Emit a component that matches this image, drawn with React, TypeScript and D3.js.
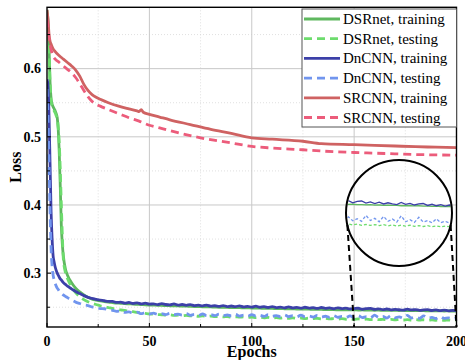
import React from "react";
import * as d3 from "d3";

// ---------- DATA ----------
const epochs = [
  0, 0.5, 1, 1.5, 2, 2.5, 3, 3.5, 4, 4.5, 5, 5.5, 6, 6.5, 7, 7.5, 8, 9,
  10, 12, 14, 16, 18, 20, 22, 24, 26, 28,
  30, 32, 34, 36, 38, 40, 42, 44, 46, 48,
  50, 52, 54, 56, 58, 60, 62, 64, 66, 68,
  70, 72, 74, 76, 78, 80, 82, 84, 86, 88,
  90, 92, 94, 96, 98, 100, 102, 104, 106, 108,
  110, 112, 114, 116, 118, 120, 122, 124, 126, 128,
  130, 132, 134, 136, 138, 140, 142, 144, 146, 148,
  150, 152, 154, 156, 158, 160, 162, 164, 166, 168,
  170, 172, 174, 176, 178, 180, 182, 184, 186, 188,
  190, 192, 194, 196, 198, 200,
];

const dsrnetTrain = [
  0.686, 0.67, 0.63, 0.58, 0.556, 0.548, 0.544, 0.541, 0.538, 0.534, 0.528, 0.51, 0.475, 0.425, 0.37, 0.342, 0.325, 0.306,
  0.297, 0.286, 0.278, 0.2725, 0.268, 0.2645, 0.262, 0.2605, 0.2592, 0.2582,
  0.2574, 0.2568, 0.2562, 0.2558, 0.2553, 0.255, 0.2546, 0.2543, 0.254, 0.2536,
  0.2533, 0.2531, 0.2528, 0.2527, 0.2524, 0.2522, 0.252, 0.2519, 0.2516, 0.2515,
  0.2513, 0.2511, 0.251, 0.2507, 0.2506, 0.2504, 0.2503, 0.25, 0.25, 0.2497,
  0.2496, 0.2494, 0.2493, 0.2491, 0.249, 0.2489, 0.2487, 0.2486, 0.2484, 0.2484,
  0.2482, 0.2481, 0.2479, 0.2478, 0.2477, 0.2476, 0.2474, 0.2474, 0.2472, 0.2471,
  0.247, 0.2468, 0.2468, 0.2466, 0.2466, 0.2464, 0.2463, 0.2462, 0.2461, 0.246,
  0.2462, 0.2459, 0.246, 0.2457, 0.2458, 0.2456, 0.2457, 0.2454, 0.2455, 0.2453,
  0.2454, 0.2452, 0.2453, 0.245, 0.2451, 0.245, 0.2449, 0.245, 0.2447, 0.2448,
  0.2446, 0.2447, 0.2445, 0.2446, 0.2444, 0.2445,
];

const dsrnetTest = [
  0.672, 0.656, 0.622, 0.578, 0.552, 0.545, 0.541, 0.538, 0.535, 0.531, 0.526, 0.514, 0.49, 0.45, 0.4, 0.355, 0.32, 0.301,
  0.292, 0.28, 0.2715, 0.2655, 0.2612, 0.258, 0.2558, 0.254, 0.2522, 0.2508,
  0.2495, 0.2482, 0.2472, 0.246, 0.2452, 0.244, 0.2435, 0.2425, 0.2418, 0.241,
  0.2402, 0.2398, 0.2392, 0.239, 0.2385, 0.2388, 0.238, 0.2384, 0.2376, 0.238,
  0.2372, 0.2376, 0.2368, 0.2372, 0.2365, 0.237, 0.2362, 0.2366, 0.2358, 0.2364,
  0.2356, 0.236, 0.2354, 0.2358, 0.235, 0.2356, 0.2348, 0.2354, 0.2345, 0.235,
  0.2343, 0.2348, 0.234, 0.2346, 0.2338, 0.2344, 0.2336, 0.2342, 0.2334, 0.234,
  0.2332, 0.2338, 0.233, 0.2336, 0.2328, 0.2334, 0.2326, 0.2332, 0.2324, 0.233,
  0.2322, 0.2328, 0.232, 0.2326, 0.2318, 0.2324, 0.2317, 0.2323, 0.2316, 0.2322,
  0.2314, 0.232, 0.2313, 0.2319, 0.2312, 0.2318, 0.2311, 0.2316, 0.231, 0.2315,
  0.2309, 0.2314, 0.2308, 0.2313, 0.2307, 0.2312,
];

const dncnnTrain = [
  0.584, 0.575, 0.53, 0.46, 0.39, 0.35, 0.325, 0.316, 0.309, 0.304, 0.3, 0.297, 0.294, 0.2915, 0.29, 0.288, 0.286, 0.2835,
  0.281, 0.277, 0.273, 0.27, 0.267, 0.2645, 0.263, 0.2615, 0.2605, 0.2595,
  0.2585, 0.2585, 0.257, 0.2575, 0.256, 0.257, 0.2555, 0.2565, 0.2548, 0.256,
  0.2545, 0.255, 0.2538, 0.2552, 0.254, 0.2535, 0.2548, 0.2532, 0.254, 0.2528,
  0.2538, 0.2525, 0.253, 0.252, 0.2532, 0.2515, 0.2522, 0.2512, 0.2525, 0.251,
  0.2518, 0.2508, 0.252, 0.2505, 0.2512, 0.2502, 0.2515, 0.25, 0.2508, 0.2496,
  0.251, 0.2495, 0.2502, 0.249, 0.2505, 0.2492, 0.2498, 0.2486, 0.25, 0.2488,
  0.2494, 0.2482, 0.2496, 0.2484, 0.249, 0.2478, 0.2492, 0.248, 0.2486, 0.2475,
  0.248, 0.2485, 0.247, 0.248, 0.2482, 0.2468, 0.2476, 0.2465, 0.2474, 0.2462,
  0.247, 0.2463, 0.2458, 0.2472, 0.246, 0.2466, 0.2455, 0.2462, 0.2465, 0.2452,
  0.246, 0.245, 0.2458, 0.2448, 0.2455, 0.245,
];

const dncnnTest = [
  0.57, 0.53, 0.46, 0.39, 0.335, 0.31, 0.297, 0.29, 0.285, 0.281, 0.278, 0.276, 0.2735, 0.272, 0.2705, 0.269, 0.268, 0.266,
  0.264, 0.2605, 0.2575, 0.2555, 0.2535, 0.2525, 0.2505, 0.2495, 0.248, 0.2478,
  0.2462, 0.2455, 0.244, 0.2445, 0.2425, 0.2432, 0.2415, 0.2428, 0.2405, 0.2418,
  0.24, 0.2415, 0.2395, 0.2405, 0.2392, 0.2412, 0.239, 0.2398, 0.2385, 0.2408,
  0.2382, 0.2395, 0.238, 0.2402, 0.2378, 0.2392, 0.2376, 0.24, 0.2375, 0.2388,
  0.2372, 0.2396, 0.237, 0.2385, 0.2368, 0.2392, 0.237, 0.2382, 0.2365, 0.239,
  0.2366, 0.2378, 0.2362, 0.2388, 0.2362, 0.2375, 0.2358, 0.2384, 0.236, 0.2372,
  0.2356, 0.238, 0.2355, 0.2368, 0.2352, 0.2378, 0.2352, 0.2365, 0.235, 0.2372,
  0.235, 0.2375, 0.2348, 0.2362, 0.2345, 0.2385, 0.235, 0.2365, 0.2342, 0.2378,
  0.2345, 0.236, 0.234, 0.2382, 0.2342, 0.2355, 0.2338, 0.2372, 0.234, 0.235,
  0.2335, 0.2362, 0.2336, 0.2345, 0.2332, 0.234,
];

const srcnnTrainEpochs = [0, 0.5, 1, 1.5, 2, 3, 4, 6, 8, 10, 12, 14, 16, 18, 20, 22, 24, 26, 30, 35, 40, 44, 45, 46, 47, 50, 55, 60, 70, 80, 90, 100, 110, 125, 134, 150, 160, 170, 180, 190, 200];
const srcnnTrain = [0.686, 0.672, 0.65, 0.64, 0.636, 0.629, 0.625, 0.619, 0.614, 0.609, 0.604, 0.598, 0.589, 0.577, 0.568, 0.562, 0.558, 0.555, 0.55, 0.545, 0.541, 0.538, 0.537, 0.54, 0.536, 0.533, 0.529, 0.525, 0.518, 0.511, 0.505, 0.4985, 0.4965, 0.4935, 0.49, 0.4885, 0.4875, 0.4865, 0.4855, 0.4848, 0.484];

const srcnnTestEpochs = [0, 0.5, 1, 1.5, 2, 3, 4, 6, 8, 10, 12, 14, 16, 18, 20, 22, 24, 26, 30, 35, 40, 45, 50, 55, 60, 75, 90, 100, 110, 125, 135, 150, 160, 170, 180, 190, 200];
const srcnnTest = [0.672, 0.66, 0.645, 0.635, 0.628, 0.618, 0.614, 0.609, 0.604, 0.599, 0.594, 0.587, 0.578, 0.568, 0.559, 0.552, 0.548, 0.545, 0.54, 0.534, 0.528, 0.523, 0.517, 0.513, 0.509, 0.4985, 0.491, 0.486, 0.4835, 0.481, 0.479, 0.477, 0.476, 0.475, 0.474, 0.4735, 0.473];

const seriesNames = ["DSRnet, training", "DSRnet, testing", "DnCNN, training", "DnCNN, testing", "SRCNN, training", "SRCNN, testing"];
const seriesColors = ["#5fb85f", "#6ddc6d", "#3c40a8", "#7195ee", "#cf6262", "#ec5c7b"];
const seriesDashed = [false, true, false, true, false, true];

const xMajorTicks = [0, 50, 100, 150, 200];
const xMinorTicks = [25, 75, 125, 175];
const yMajorTicks = [0.3, 0.4, 0.5, 0.6];
const yMinorTicks = [0.25, 0.35, 0.45, 0.55, 0.65];

const xDomain = [0, 200];
const yDomain = [0.221, 0.69];
const zoomEpochs = [150, 200];
const zoomLoss = [0.2043, 0.2759];

// ---------- LAYOUT ----------
const W = 465, H = 360;
const L = 47, R = 456.5, T = 7.3, B = 327;
const FONT = "'Liberation Serif', 'Times New Roman', serif";

export default function App() {
  const x = d3.scaleLinear().domain(xDomain).range([L, R]);
  const y = d3.scaleLinear().domain(yDomain).range([B, T]);

  const seriesData: [number, number][][] = [
    epochs.map((e, i) => [e, dsrnetTrain[i]] as [number, number]),
    epochs.map((e, i) => [e, dsrnetTest[i]] as [number, number]),
    epochs.map((e, i) => [e, dncnnTrain[i]] as [number, number]),
    epochs.map((e, i) => [e, dncnnTest[i]] as [number, number]),
    srcnnTrainEpochs.map((e, i) => [e, srcnnTrain[i]] as [number, number]),
    srcnnTestEpochs.map((e, i) => [e, srcnnTest[i]] as [number, number]),
  ].map((s) => s.filter((d) => d[1] !== undefined));

  const line = d3
    .line<[number, number]>()
    .x((d) => x(d[0]))
    .y((d) => y(d[1]))
    .curve(d3.curveMonotoneX);

  // inset
  const cx = 399, cy = 213, r = 53;
  const ix = d3.scaleLinear().domain(zoomEpochs).range([cx - r - 2, cx + r + 2]);
  const iy = d3.scaleLinear().domain(zoomLoss).range([cy + r, cy - r]);
  const iline = d3
    .line<[number, number]>()
    .x((d) => ix(d[0]))
    .y((d) => iy(d[1]))
    .curve(d3.curveLinear);

  const dyC = 12;
  const dxC = Math.sqrt(r * r - dyC * dyC);
  const connLeft = { x1: cx - dxC, y1: cy + dyC, x2: x(zoomEpochs[0]), y2: B };
  const connRight = { x1: cx + dxC, y1: cy + dyC, x2: x(zoomEpochs[1]), y2: B };

  const legendX = 302, legendY = 9, legendW = R - 302, legendH = 118;
  const rowH = 19.7;

  return (
    <svg width={W} height={H} style={{ position: "absolute", left: 0, top: 0 }} fontFamily={FONT}>
      <defs>
        <clipPath id="plotClip">
          <rect x={L} y={T} width={R - L} height={B - T} />
        </clipPath>
        <clipPath id="circleClip">
          <circle cx={cx} cy={cy} r={r - 1} />
        </clipPath>
      </defs>
      <rect x={0} y={0} width={W} height={H} fill="#fff" />

      {/* grid */}
      {yMinorTicks.map((t) => (
        <line key={"ymg" + t} x1={L} x2={R} y1={y(t)} y2={y(t)} stroke="#d8d8d8" strokeWidth={0.8} strokeDasharray="1,2" />
      ))}
      {xMinorTicks.map((t) => (
        <line key={"xmg" + t} x1={x(t)} x2={x(t)} y1={T} y2={B} stroke="#d8d8d8" strokeWidth={0.8} strokeDasharray="1,2" />
      ))}
      {yMajorTicks.map((t) => (
        <line key={"yg" + t} x1={L} x2={R} y1={y(t)} y2={y(t)} stroke="#c8c8c8" strokeWidth={1} />
      ))}
      {xMajorTicks.slice(1, -1).map((t) => (
        <line key={"xg" + t} x1={x(t)} x2={x(t)} y1={T} y2={B} stroke="#c8c8c8" strokeWidth={1} />
      ))}

      {/* series */}
      <g clipPath="url(#plotClip)">
        {seriesData.map((s, i) => (
          <path
            key={"s" + i}
            d={line(s) || ""}
            fill="none"
            stroke={seriesColors[i]}
            strokeWidth={2.8}
            strokeDasharray={seriesDashed[i] ? "8,5" : undefined}
            strokeLinejoin="round"
          />
        ))}
      </g>

      {/* inset */}
      <g clipPath="url(#circleClip)">
        {seriesData.slice(0, 4).map((s, i) => (
          <path
            key={"is" + i}
            d={iline(s.filter((d) => d[0] >= zoomEpochs[0] - 2)) || ""}
            fill="none"
            stroke={seriesColors[i]}
            strokeWidth={1.3}
            strokeDasharray={seriesDashed[i] ? "3,2" : undefined}
          />
        ))}
      </g>
      <circle cx={cx} cy={cy} r={r} fill="none" stroke="#000" strokeWidth={2} />
      <line {...connLeft} stroke="#000" strokeWidth={2} strokeDasharray="6,4" />
      <line {...connRight} stroke="#000" strokeWidth={2} strokeDasharray="6,4" />

      {/* frame */}
      <rect x={L} y={T} width={R - L} height={B - T} fill="none" stroke="#000" strokeWidth={1.4} />

      {/* ticks */}
      {yMajorTicks.map((t) => (
        <line key={"yt" + t} x1={L} x2={L + 4} y1={y(t)} y2={y(t)} stroke="#000" strokeWidth={1} />
      ))}
      {yMinorTicks.map((t) => (
        <line key={"ymt" + t} x1={L} x2={L + 3} y1={y(t)} y2={y(t)} stroke="#000" strokeWidth={1} />
      ))}
      {xMajorTicks.map((t) => (
        <line key={"xt" + t} x1={x(t)} x2={x(t)} y1={B} y2={B - 4} stroke="#000" strokeWidth={1} />
      ))}
      {xMinorTicks.map((t) => (
        <line key={"xmt" + t} x1={x(t)} x2={x(t)} y1={B} y2={B - 3} stroke="#000" strokeWidth={1} />
      ))}

      {/* tick labels */}
      {yMajorTicks.map((t) => (
        <text key={"yl" + t} x={L - 6} y={y(t) + 4.8} textAnchor="end" fontSize={14} fontWeight="bold" fill="#000">
          {d3.format(".1f")(t)}
        </text>
      ))}
      {xMajorTicks.map((t) => (
        <text key={"xl" + t} x={x(t)} y={346} textAnchor="middle" fontSize={14} fontWeight="bold" fill="#000">
          {t}
        </text>
      ))}

      {/* axis titles */}
      <text x={(L + R) / 2} y={356.5} textAnchor="middle" fontSize={16} fontWeight="bold" fill="#000">
        Epochs
      </text>
      <text transform={`translate(20.5,${(T + B) / 2}) rotate(-90)`} textAnchor="middle" fontSize={16} fontWeight="bold" fill="#000">
        Loss
      </text>

      {/* legend */}
      <rect x={legendX} y={legendY} width={legendW} height={legendH} fill="#fff" stroke="#555" strokeWidth={1} />
      {seriesNames.map((name, i) => {
        const cyL = legendY + 10 + i * rowH;
        return (
          <g key={"lg" + i}>
            <line
              x1={legendX + 2}
              x2={legendX + 38}
              y1={cyL}
              y2={cyL}
              stroke={seriesColors[i]}
              strokeWidth={2.8}
              strokeDasharray={seriesDashed[i] ? "8,5" : undefined}
            />
            <text x={legendX + 41} y={cyL + 5} fontSize={15} fill="#000">
              {name}
            </text>
          </g>
        );
      })}
    </svg>
  );
}
